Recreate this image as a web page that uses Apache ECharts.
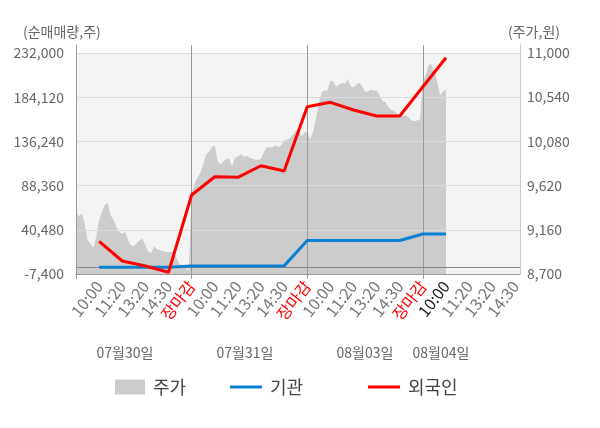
<!DOCTYPE html>
<html>
<head>
<meta charset="utf-8">
<script src="https://cdn.jsdelivr.net/npm/echarts@6/dist/echarts.min.js"></script>
<style>
  html, body { margin: 0; background: #fff; }
  #chart { width: 600px; height: 428px; }
</style>
</head>
<body>
<div id="chart"></div>
<script>
// x축: 하루 5칸, 마지막 날은 14:30까지
const tickLabels = [
  '10:00', '11:20', '13:20', '14:30', '장마감',
  '10:00', '11:20', '13:20', '14:30', '장마감',
  '10:00', '11:20', '13:20', '14:30', '장마감',
  '10:00', '11:20', '13:20', '14:30'
];
const dayLabels = ['07월30일', '07월31일', '08월03일', '08월04일'];
const leftTicks = [-7400, 40480, 88360, 136240, 184120, 232000];
const rightTicks = [8700, 9160, 9620, 10080, 10540, 11000];

// 순매매량 (칸 1부터)
const institution = [-100, -100, -100, -100, 1400, 1400, 1400, 1400, 1400,
  28900, 28900, 28900, 28900, 28900, 35900, 35900];
const foreigner = [27900, 6680, 1260, -5560, 78160, 97980, 97330, 109890, 104150,
  173790, 178550, 170210, 163710, 163710, 195450, 226860];

// 주가 (하루 40개 샘플)
const priceDay1 = [9350, 9300, 9330, 9230, 9050, 9020, 8970, 9090, 9260, 9350,
  9420, 9440, 9310, 9260, 9190, 9140, 9120, 9140, 9050, 9000,
  8990, 9020, 9050, 9070, 9000, 8930, 8920, 8990, 8960, 8950,
  8940, 8930, 8930, 8930, 8920, 8850, 8790, 8780, 8760, 8740];
const priceDay2 = [9540, 9640, 9700, 9750, 9840, 9940, 9970, 10020, 10040, 9870,
  9840, 9870, 9900, 9900, 9820, 9910, 9920, 9950, 9920, 9930,
  9910, 9900, 9890, 9890, 9900, 9970, 10020, 10020, 10020, 10040,
  10020, 10040, 10090, 10100, 10110, 10150, 10190, 10200, 10130, 10170];
const priceDay3 = [10180, 10100, 10180, 10310, 10480, 10590, 10610, 10610, 10710, 10700,
  10650, 10670, 10690, 10680, 10730, 10660, 10640, 10670, 10690, 10650,
  10600, 10600, 10620, 10610, 10610, 10560, 10500, 10490, 10440, 10410,
  10400, 10370, 10350, 10340, 10350, 10330, 10300, 10290, 10300, 10300];
const priceDay4 = [10700, 10770, 10880, 10880, 10800, 10690, 10560, 10600, 10620];

const slotsPerDay = 5;
const perDay = 40;
const xMax = 19.2;
const FONT = '"Noto Sans CJK KR", "Noto Sans", sans-serif';

const priceData = [];
[priceDay1, priceDay2, priceDay3, priceDay4].forEach((arr, d) => {
  arr.forEach((v, j) => priceData.push([d * slotsPerDay + j * slotsPerDay / perDay, v]));
});
const toPoints = arr => arr.map((v, i) => [i + 1, v]);
const fmt = v => Number(v).toLocaleString('en-US');

const chart = echarts.init(document.getElementById('chart'));

chart.setOption({
  animation: false,
  textStyle: { fontFamily: FONT },
  grid: { left: 76, right: 80, top: 45, bottom: 154 },
  xAxis: {
    type: 'value', min: 0, max: xMax, z: 3,
    axisLine: { onZero: false, lineStyle: { color: '#999' } },
    axisTick: { customValues: [0, 5, 10, 15], length: 5, lineStyle: { color: '#999' } },
    splitLine: { show: true, lineStyle: { color: '#999' } },
    axisLabel: {
      customValues: tickLabels.map((l, i) => i + 1),
      rotate: 52, margin: 9, fontSize: 16,
      formatter: v => tickLabels[v - 1],
      color: v => {
        const l = tickLabels[Number(v) - 1];
        if (l === '장마감') return '#ff0000';
        return Number(v) === 16 ? '#222' : '#777';
      }
    }
  },
  yAxis: [{
    type: 'value', min: -7400, max: 240660, z: 3,
    axisLine: { show: true, lineStyle: { color: '#999' } },
    axisTick: { show: false, customValues: leftTicks },
    axisLabel: { customValues: leftTicks, formatter: fmt, color: '#666', fontSize: 14, margin: 12 },
    splitLine: { lineStyle: { color: '#dcdcdc' } }
  }, {
    type: 'value', min: 8700, max: 11083, position: 'right', z: 3,
    axisLine: { show: true, lineStyle: { color: '#ccc' } },
    axisTick: { show: false, customValues: rightTicks },
    axisLabel: { customValues: rightTicks, formatter: fmt, color: '#666', fontSize: 14, margin: 7 },
    splitLine: { show: false }
  }],
  legend: [
    { data: [{ name: '주가', icon: 'rect' }], left: 115, top: 378, itemWidth: 30, itemHeight: 15 },
    { data: [{ name: '기관', icon: 'rect' }], left: 230, top: 378, itemWidth: 32, itemHeight: 3 },
    { data: [{ name: '외국인', icon: 'rect' }], left: 368, top: 378, itemWidth: 32, itemHeight: 3 }
  ].map(l => Object.assign(l, {
    padding: 0,
    textStyle: { fontSize: 18, color: '#444', padding: [0, 0, 0, 3] }
  })),
  series: [{
    name: '주가', type: 'line', yAxisIndex: 1, data: priceData,
    color: '#cccccc', symbol: 'none', z: 2,
    lineStyle: { width: 0 },
    areaStyle: { color: '#cccccc', opacity: 1, origin: 'start' },
    markArea: {
      silent: true,
      itemStyle: { color: '#f4f4f4' },
      data: [[{ xAxis: 0, yAxis: 8700 }, { xAxis: xMax, yAxis: 11000 }]]
    }
  }, {
    name: '기관', type: 'line', yAxisIndex: 0, data: toPoints(institution),
    color: '#0a80d0', symbol: 'none', z: 6,
    lineStyle: { color: '#0a80d0', width: 3 },
    markLine: {
      silent: true, symbol: 'none', label: { show: false },
      lineStyle: { color: '#888', width: 1, type: 'solid' },
      data: [{ yAxis: 0 }]
    }
  }, {
    name: '외국인', type: 'line', yAxisIndex: 0, data: toPoints(foreigner),
    color: '#ff0000', symbol: 'none', z: 7,
    lineStyle: { color: '#ff0000', width: 3 }
  }],
  graphic: [
    { type: 'text', left: 23, top: 25, style: { text: '(순매매량,주)', font: '14px ' + FONT, fill: '#666' } },
    { type: 'text', left: 508, top: 25, style: { text: '(주가,원)', font: '14px ' + FONT, fill: '#666' } }
  ].concat(dayLabels.map((t, i) => ({
    type: 'text', x: [125, 245, 365, 441][i], y: 353,
    style: { text: t, font: '14px ' + FONT, fill: '#666', align: 'center', verticalAlign: 'middle' }
  })))
});
</script>
</body>
</html>
